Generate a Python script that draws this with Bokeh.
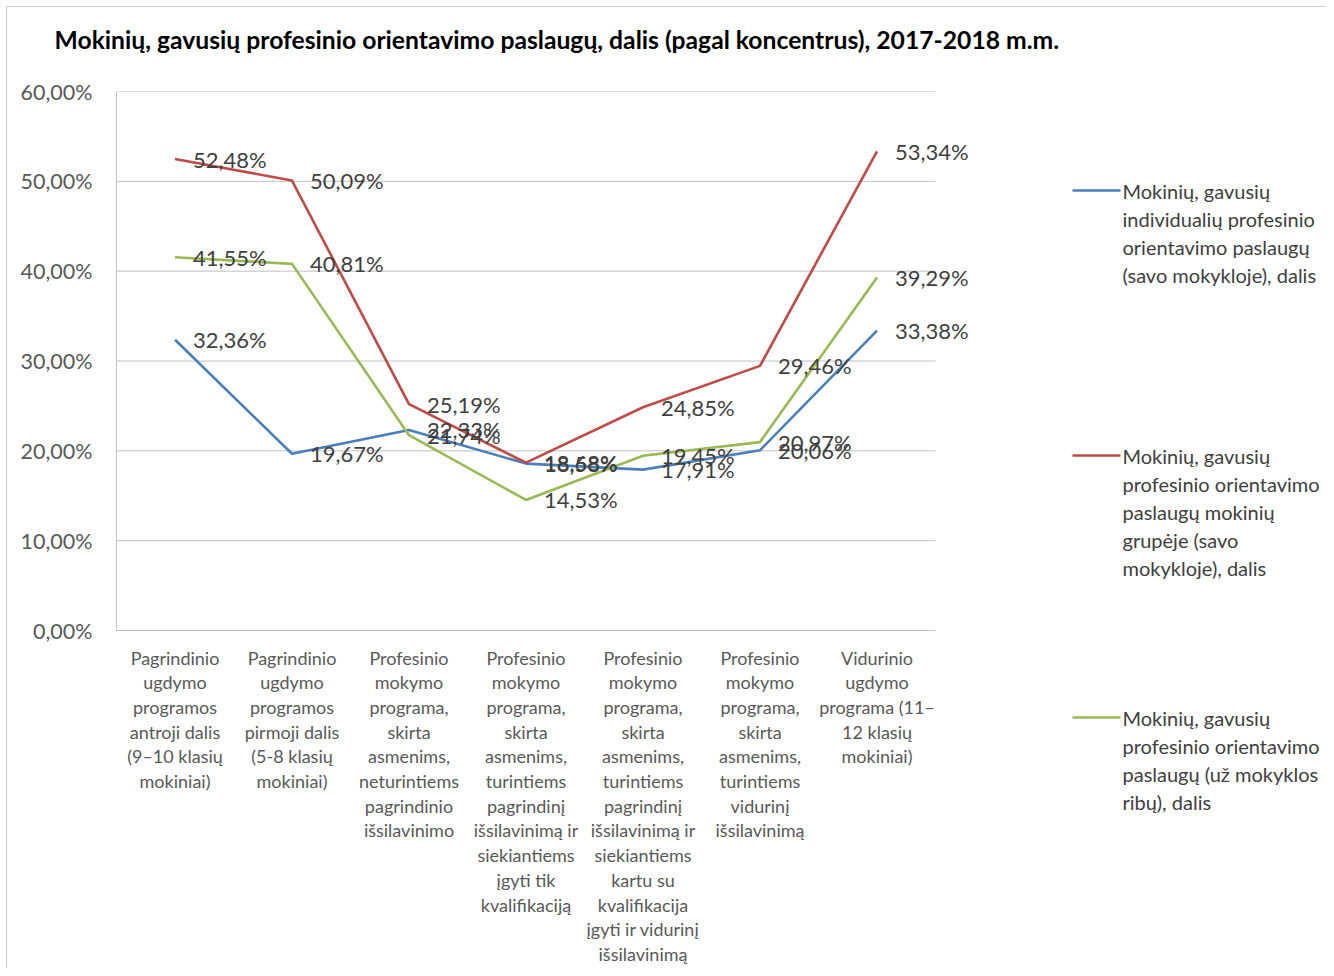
from bokeh.plotting import figure
from bokeh.models import Range1d, FixedTicker, ColumnDataSource, Title
from bokeh.embed import file_html
from bokeh.resources import INLINE
from bokeh.core.properties import value

# ---------------- data ----------------
categories = [
    "Pagrindinio\nugdymo\nprogramos\nantroji dalis\n(9–10 klasių\nmokiniai)",
    "Pagrindinio\nugdymo\nprogramos\npirmoji dalis\n(5-8 klasių\nmokiniai)",
    "Profesinio\nmokymo\nprograma,\nskirta\nasmenims,\nneturintiems\npagrindinio\nišsilavinimo",
    "Profesinio\nmokymo\nprograma,\nskirta\nasmenims,\nturintiems\npagrindinį\nišsilavinimą ir\nsiekiantiems\nįgyti tik\nkvalifikaciją",
    "Profesinio\nmokymo\nprograma,\nskirta\nasmenims,\nturintiems\npagrindinį\nišsilavinimą ir\nsiekiantiems\nkartu su\nkvalifikacija\nįgyti ir vidurinį\nišsilavinimą",
    "Profesinio\nmokymo\nprograma,\nskirta\nasmenims,\nturintiems\nvidurinį\nišsilavinimą",
    "Vidurinio\nugdymo\nprograma (11–\n12 klasių\nmokiniai)",
]

individual = [32.36, 19.67, 22.33, 18.58, 17.91, 20.06, 33.38]
group = [52.48, 50.09, 25.19, 18.68, 24.85, 29.46, 53.34]
outside = [41.55, 40.81, 21.74, 14.53, 19.45, 20.97, 39.29]

series_names = [
    "Mokinių, gavusių\nindividualių profesinio\norientavimo paslaugų\n(savo mokykloje), dalis",
    "Mokinių, gavusių\nprofesinio orientavimo\npaslaugų mokinių\ngrupėje (savo\nmokykloje), dalis",
    "Mokinių, gavusių\nprofesinio orientavimo\npaslaugų (už mokyklos\nribų), dalis",
]
series_values = [individual, group, outside]
series_colors = ["#4a7ebb", "#be4b48", "#98b954"]

y_ticks = [0, 10, 20, 30, 40, 50, 60]
y_tick_labels = ["0,00%", "10,00%", "20,00%", "30,00%", "40,00%", "50,00%", "60,00%"]

title_text = "Mokinių, gavusių profesinio orientavimo paslaugų, dalis (pagal koncentrus), 2017-2018 m.m."

FONT = "Lato"
TXT = "#404040"
AX = "#595959"
GRID = "#c0c0c0"

# ---------------- geometry (pixels) ----------------
ORIG = 7                      # canvas origin on the page
W, H = 1320, 962
LEFT, TOP = 116 - ORIG, 91 - ORIG   # frame left / top inside the canvas
PLOT_H = 539                  # height of the 0..60 % band
CAT_W = 117                   # pixel width of one category
n = len(categories)
y_max = y_ticks[-1]
ppu_y = PLOT_H / y_max
frame_w = W - LEFT
frame_h = H - TOP
x_end = frame_w / CAT_W
y_start = y_max - frame_h / ppu_y


def dx(px):   # page px -> data x
    return (px - ORIG - LEFT) / CAT_W


def dy(py):   # page px -> data y
    return y_max - (py - ORIG - TOP) / ppu_y


p = figure(width=W, height=H, title=None,
           x_range=Range1d(0, x_end), y_range=Range1d(y_start, y_max),
           min_border_left=LEFT, min_border_top=TOP,
           min_border_right=0, min_border_bottom=0,
           x_axis_location=None,
           output_backend="svg", toolbar_location=None)

# spacer between title and plot, then the title itself
p.add_layout(Title(text=" ", text_font_size="17px", text_font=FONT), "above")
p.add_layout(Title(text=title_text, align="left", offset=-62,
                   text_font=FONT, text_font_size="24.7px", text_font_style="bold",
                   text_color="#000000"), "above")

p.outline_line_color = None
p.background_fill_color = "white"
p.border_fill_color = "white"
p.grid.grid_line_color = None

p.yaxis.ticker = FixedTicker(ticks=y_ticks)
p.yaxis.bounds = (y_ticks[0], y_ticks[-1])
p.yaxis.major_label_overrides = {t: l for t, l in zip(y_ticks, y_tick_labels)}
p.yaxis.axis_line_color = GRID
p.yaxis.major_tick_line_color = None
p.yaxis.minor_tick_line_color = None
p.yaxis.major_label_standoff = 18
p.yaxis.major_label_text_font = FONT
p.yaxis.major_label_text_font_size = "21.5px"
p.yaxis.major_label_text_color = AX

# horizontal gridlines across the category band
p.segment(x0=[0] * len(y_ticks), x1=[n] * len(y_ticks), y0=y_ticks, y1=y_ticks,
          line_color=GRID, line_width=1)

xs = [i + 0.5 for i in range(n)]

# category labels (below the 0 % line)
line_step_cat = 24.7 / ppu_y
cx, cy, ct = [], [], []
for x, cat in zip(xs, categories):
    for j, ln in enumerate(cat.split("\n")):
        cx.append(x)
        cy.append(dy(657) - j * line_step_cat)
        ct.append(ln)
p.text(x=cx, y=cy, text=ct, text_font=value(FONT), text_font_size="18px",
       text_color=AX, text_align="center", text_baseline="middle")

# series lines
for vals, col in zip(series_values, series_colors):
    p.line(x=xs, y=vals, line_color=col, line_width=2.6)

# data labels
for vals in series_values:
    src = ColumnDataSource(dict(x=xs, y=vals,
                                t=[f"{v:.2f}".replace(".", ",") + "%" for v in vals]))
    p.text(x="x", y="y", text="t", source=src, x_offset=18,
           text_baseline="middle", text_align="left",
           text_font=value(FONT), text_font_size="22px", text_color=TXT)

# legend
legend_line_px = [190, 455, 717]
line_step_leg = 28 / ppu_y
for name, col, ly in zip(series_names, series_colors, legend_line_px):
    y0 = dy(ly)
    p.segment(x0=[dx(1072)], x1=[dx(1120)], y0=[y0], y1=[y0],
              line_color=col, line_width=2.6)
    lines = name.split("\n")
    p.text(x=[dx(1122)] * len(lines), y=[y0 - i * line_step_leg for i in range(len(lines))],
           text=lines, text_font=value(FONT), text_font_size="20px",
           text_color=TXT, text_baseline="middle", text_align="left")

p.styles = {"border-top": "1px solid #c8c8c8", "border-left": "1px solid #c8c8c8",
            "margin-left": "6px", "margin-top": "6px"}

open("out.html", "w").write(file_html(p, INLINE))
